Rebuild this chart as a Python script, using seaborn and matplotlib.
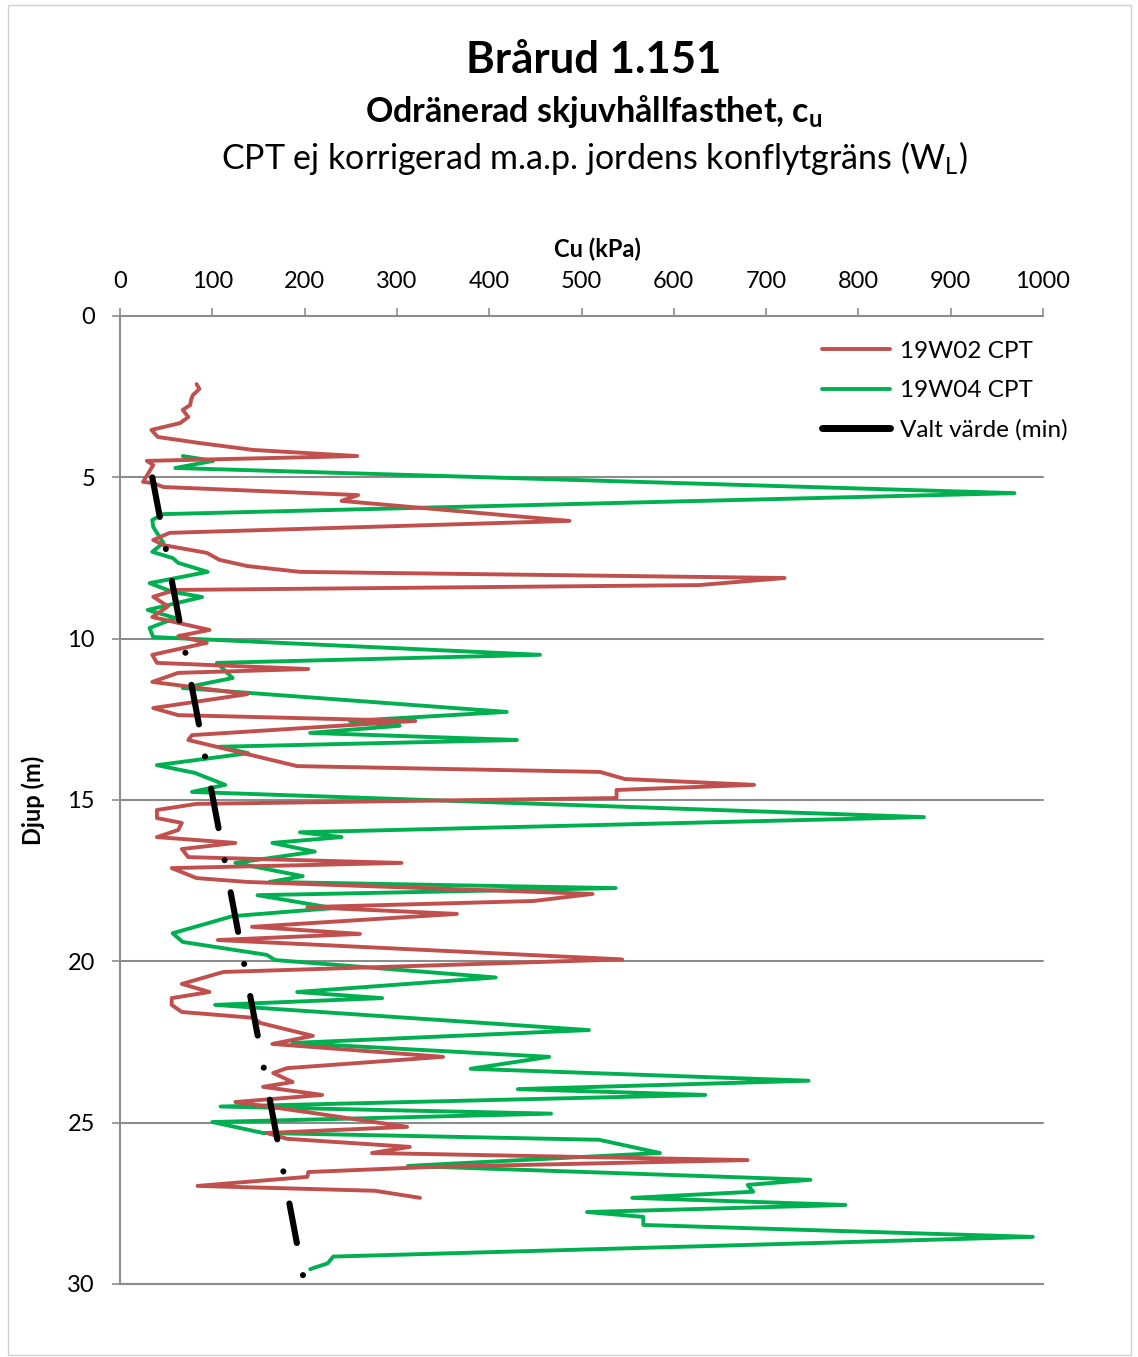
import matplotlib
matplotlib.use("Agg")
import matplotlib.pyplot as plt
import seaborn as sns
import pandas as pd
from matplotlib.lines import Line2D
from matplotlib.patches import Rectangle

# ---------------- data ----------------
red_cu = [83, 86, 79, 77, 76, 68, 74, 65, 34, 41, 87, 144, 257, 29, 36, 25, 36, 47, 258, 240, 487,
          54, 36, 47, 94, 108, 138, 195, 720, 627, 60, 36, 52, 35, 97, 63, 94, 35, 40, 204, 63, 35,
          138, 36, 63, 320, 78, 74, 192, 520, 547, 687, 538, 538, 83, 40, 40, 67, 63, 40, 125, 67,
          74, 305, 56, 83, 138, 512, 448, 203, 365, 143, 260, 106, 544, 112, 67, 97, 56, 56, 67,
          144, 152, 209, 165, 350, 181, 166, 187, 155, 219, 125, 209, 311, 159, 181, 314, 273, 680,
          339, 204, 203, 84, 276, 325]
red_depth = [2.11, 2.26, 2.45, 2.60, 2.76, 2.91, 3.13, 3.32, 3.53, 3.75, 3.94, 4.15, 4.34, 4.49,
             4.62, 5.14, 5.18, 5.30, 5.55, 5.73, 6.35, 6.72, 6.94, 7.10, 7.34, 7.56, 7.75, 7.93,
             8.12, 8.34, 8.49, 8.70, 9.00, 9.33, 9.73, 9.92, 10.13, 10.50, 10.75, 10.94, 11.06,
             11.34, 11.72, 12.15, 12.37, 12.55, 12.99, 13.14, 13.95, 14.13, 14.35, 14.53, 14.69,
             14.94, 15.12, 15.31, 15.56, 15.71, 15.93, 16.15, 16.33, 16.52, 16.77, 16.95, 17.11,
             17.42, 17.54, 17.91, 18.13, 18.32, 18.53, 18.93, 19.15, 19.34, 19.94, 20.33, 20.70,
             20.95, 21.14, 21.35, 21.57, 21.75, 21.91, 22.31, 22.56, 22.96, 23.31, 23.46, 23.74,
             23.89, 24.14, 24.36, 24.70, 25.13, 25.32, 25.50, 25.75, 25.94, 26.16, 26.37, 26.53,
             26.68, 26.96, 27.11, 27.33]

green_cu = [68, 101, 60, 969, 47, 35, 36, 47, 35, 57, 63, 95, 32, 57, 89, 30, 60, 32, 36, 455, 105,
            122, 68, 419, 249, 303, 206, 430, 108, 139, 40, 81, 114, 78, 871, 195, 240, 165, 211,
            125, 198, 162, 537, 149, 231, 122, 57, 68, 159, 168, 407, 192, 284, 103, 508, 187, 465,
            380, 746, 431, 634, 109, 467, 100, 155, 519, 585, 312, 748, 680, 686, 555, 786, 506,
            567, 567, 989, 231, 225, 206]
green_depth = [4.34, 4.49, 4.71, 5.49, 6.14, 6.32, 6.54, 7.03, 7.31, 7.50, 7.65, 7.93, 8.28, 8.55,
               8.71, 9.11, 9.36, 9.67, 9.95, 10.50, 10.75, 11.22, 11.53, 12.27, 12.55, 12.70,
               12.92, 13.14, 13.35, 13.55, 13.92, 14.16, 14.53, 14.75, 15.53, 16.00, 16.15, 16.33,
               16.60, 16.95, 17.36, 17.54, 17.73, 17.95, 18.35, 18.60, 19.13, 19.40, 19.80, 19.96,
               20.50, 20.95, 21.14, 21.35, 22.13, 22.53, 22.96, 23.33, 23.70, 23.96, 24.14, 24.50,
               24.72, 24.98, 25.32, 25.53, 25.94, 26.34, 26.77, 26.93, 27.14, 27.33, 27.55, 27.77,
               27.92, 28.17, 28.54, 29.15, 29.36, 29.54]

valt_cu = [35, 200]
valt_depth = [5, 30]

series_labels = ["19W02 CPT", "19W04 CPT", "Valt värde (min)"]
x_ticks = [0, 100, 200, 300, 400, 500, 600, 700, 800, 900, 1000]
y_ticks = [0, 5, 10, 15, 20, 25, 30]

# ---------------- style ----------------
sns.set_theme(style="white")
plt.rcParams['font.family'] = ['Lato', 'DejaVu Sans']
plt.rcParams['mathtext.fontset'] = 'custom'
plt.rcParams['mathtext.rm'] = 'Lato'
plt.rcParams['mathtext.bf'] = 'Lato:bold'
plt.rcParams['lines.scale_dashes'] = False
plt.rcParams['text.color'] = 'black'
plt.rcParams['axes.labelcolor'] = 'black'
plt.rcParams['xtick.color'] = 'black'
plt.rcParams['ytick.color'] = 'black'

RED = "#C0504D"
GREEN = "#00B050"
GRID = "#8C8C8C"

fig = plt.figure(figsize=(11.38, 13.57), dpi=100)
ax = fig.add_axes([120/1138, 1-1284/1357, (1043-120)/1138, (1284-316)/1357])

df_red = pd.DataFrame({"cu": red_cu, "depth": red_depth})
df_green = pd.DataFrame({"cu": green_cu, "depth": green_depth})
df_valt = pd.DataFrame({"cu": valt_cu, "depth": valt_depth})

for y in y_ticks[1:]:
    ax.axhline(y, color=GRID, lw=1.5, zorder=0, clip_on=False)

sns.lineplot(data=df_red, x="cu", y="depth", sort=False, estimator=None, orient="y",
             color=RED, lw=2.8, ax=ax, zorder=3)
sns.lineplot(data=df_green, x="cu", y="depth", sort=False, estimator=None, orient="y",
             color=GREEN, lw=2.8, ax=ax, zorder=2)
sns.lineplot(data=df_valt, x="cu", y="depth", sort=False, estimator=None, orient="y",
             color="black", lw=4.4, ax=ax, zorder=4)
bl = ax.lines[-1]
bl.set_linestyle((0, (29.0, 23.5, 0.01, 23.5)))
bl.set_dash_capstyle('round')

ax.set_xlim(0, 1000)
ax.set_ylim(30, 0)
ax.set_xticks(x_ticks)
ax.set_yticks(y_ticks)
ax.xaxis.tick_top()
ax.xaxis.set_label_position('top')
ax.set_xlabel("Cu (kPa)", fontsize=17, fontweight='bold', color='black')
ax.xaxis.set_label_coords(0.517, 1.0 + 59/968)
ax.set_ylabel("Djup (m)", fontsize=17, fontweight='bold', color='black')
ax.yaxis.set_label_coords(-75/923, 0.5)
ax.tick_params(axis='both', which='both', direction='out', length=6, width=1.2,
               color=GRID, labelsize=17, labelcolor='black')
ax.tick_params(axis='x', pad=11)
ax.tick_params(axis='y', pad=12)
ax.tick_params(axis='x', top=True, bottom=False)
ax.tick_params(axis='y', left=True)
for s in ['right']:
    ax.spines[s].set_visible(False)
for s in ['left', 'top', 'bottom']:
    ax.spines[s].set_color(GRID)
    ax.spines[s].set_linewidth(1.5)
ax.grid(False)

handles = [Line2D([0], [0], color=RED, lw=2.8),
           Line2D([0], [0], color=GREEN, lw=2.8),
           Line2D([0], [0], color="black", lw=5)]
leg = ax.legend(handles, series_labels, loc='upper right', bbox_to_anchor=(1.05, 0.997),
                frameon=False, fontsize=17.5, handlelength=2.8, handletextpad=0.4,
                labelspacing=0.75)
for t in leg.get_texts():
    t.set_color('black')

fig.text(0.522, 1-60/1357, "Brårud 1.151", ha='center', va='center', fontsize=31.5,
         fontweight='bold', color='black')
fig.text(0.522, 1-112/1357, r"Odränerad skjuvhållfasthet, c$_\mathbf{u}$", ha='center',
         va='center', fontsize=24.5, fontweight='bold', color='black')
fig.text(0.522, 1-158/1357, r"CPT ej korrigerad m.a.p. jordens konflytgräns (W$_\mathrm{L}$)",
         ha='center', va='center', fontsize=24.5, color='black')

fig.patches.append(Rectangle((8/1138, 2/1357), 1123/1138, 1350/1357, transform=fig.transFigure,
                             fill=False, edgecolor="#D0D0D0", lw=1))

fig.savefig("out.png", dpi=100)
